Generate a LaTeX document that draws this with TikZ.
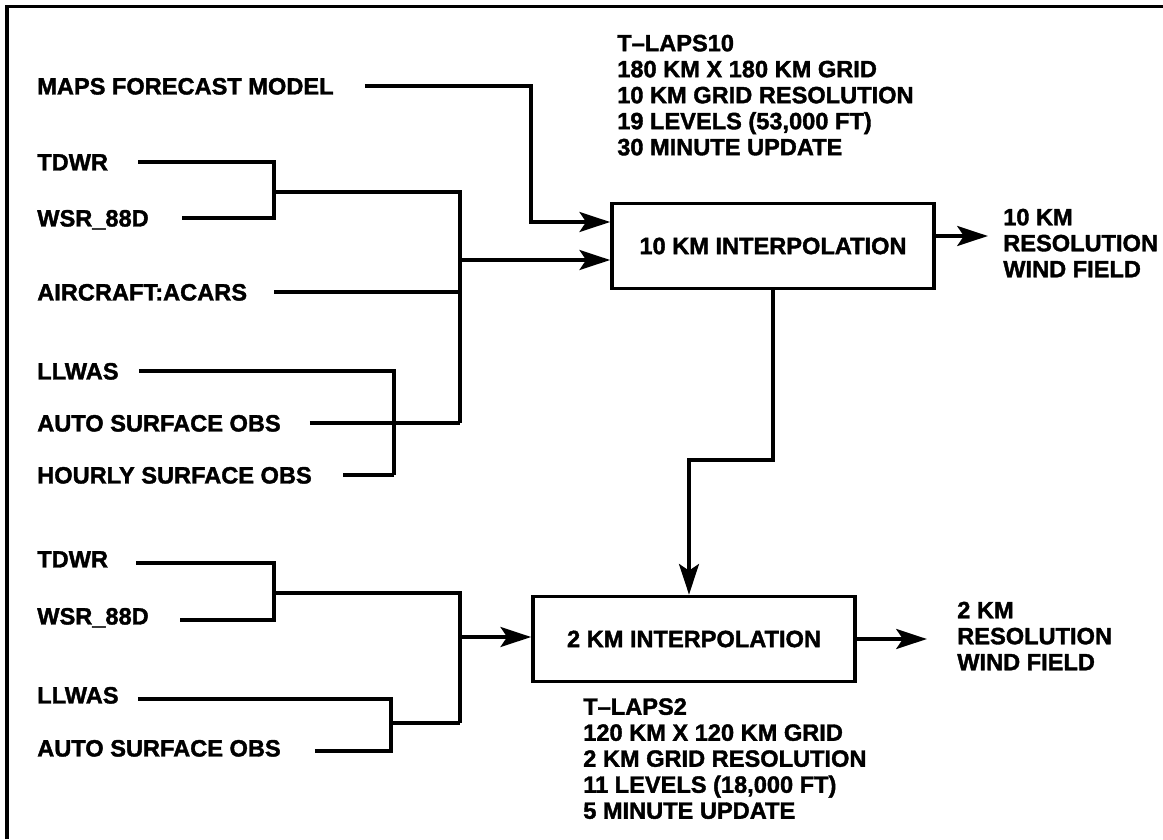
\documentclass[tikz,border=0pt]{standalone}
\usepackage{fontspec}
\setmainfont{Liberation Sans}[BoldFeatures={FakeBold=1.6}]
\usetikzlibrary{arrows.meta}
\begin{document}
\begin{tikzpicture}[x=0.75pt,y=-0.75pt,
  lab/.style={anchor=west, inner sep=0pt, font=\bfseries\fontsize{17.7}{19.5}\selectfont, text height=12.7pt, text depth=0pt},
  blk/.style={anchor=north west, inner sep=0pt, align=left, font=\bfseries\fontsize{17.7}{19.5}\selectfont},
  wire/.style={line width=2.5pt},
  arr/.style={wire, -{Stealth[length=23pt,width=15pt,inset=5pt]}},
  procbox/.style={draw, line width=2.8pt, minimum width=241.5pt, minimum height=63.75pt, inner sep=0pt,
    font=\bfseries\fontsize{17.7}{19.5}\selectfont}]
\useasboundingbox (0,0) rectangle (1163,839);
% frame
\draw[line width=2.6pt] (7,839) -- (7,6.5) -- (1163,6.5);

% ---------- upper part ----------
\node[lab] (maps) at (37,86) {MAPS FORECAST MODEL};
\node[lab] (tdwrA) at (37,162) {TDWR};
\node[lab] (wsrA) at (37,218) {WSR\_88D};
\node[lab] (acars) at (37,292) {AIRCRAFT:ACARS};
\node[lab] (llwasA) at (37,371) {LLWAS};
\node[lab] (autoA) at (37,423) {AUTO SURFACE OBS};
\node[lab] (hourly) at (37,475) {HOURLY SURFACE OBS};

\node[procbox] (box1) at (773,246) {10 KM INTERPOLATION};
\node[blk] (tl10) at (617,34.5) {T–LAPS10\\180 KM X 180 KM GRID\\10 KM GRID RESOLUTION\\19 LEVELS (53,000 FT)\\30 MINUTE UPDATE};
\node[blk] (out1) at (1003,208.5) {10 KM\\RESOLUTION\\WIND FIELD};

\coordinate (k1) at (531,222);
\coordinate (jA) at (274,192);
\coordinate (bA) at (460,423);
\coordinate (tA) at (460,260);
\coordinate (jL) at (394,475);

\draw[arr] (maps.east) ++(31,0) -| (k1) -- (k1 -| box1.west);
\draw[wire] (tdwrA.east) ++(30,0) -| (jA);
\draw[wire] (wsrA.east) ++(33,0) -| (jA);
\draw[wire] (jA) -| (bA);
\draw[wire] (acars.east) ++(27,0) -- (acars.east -| bA);
\draw[wire] (autoA.east) ++(29,0) -- (autoA.east -| bA);
\draw[wire] (llwasA.east) ++(20,0) -| (jL);
\draw[wire] (hourly.east) ++(31,0) -- (jL);
\draw[arr] (tA) -- (tA -| box1.west);
\draw[arr] ([yshift=7.5pt]box1.east) -- ++(52,0);

% ---------- lower part ----------
\node[lab] (tdwrB) at (37,559) {TDWR};
\node[lab] (wsrB) at (37,616) {WSR\_88D};
\node[lab] (llwasB) at (37,695) {LLWAS};
\node[lab] (autoB) at (37,748) {AUTO SURFACE OBS};

\node[procbox] (box2) at (694,639) {2 KM INTERPOLATION};
\node[blk] (tl2) at (583,698) {T–LAPS2\\120 KM X 120 KM GRID\\2 KM GRID RESOLUTION\\11 LEVELS (18,000 FT)\\5 MINUTE UPDATE};
\node[blk] (out2) at (957,601.5) {2 KM\\RESOLUTION\\WIND FIELD};

\coordinate (jB) at (274,593);
\coordinate (bB) at (460,723);
\coordinate (tB) at (460,637);
\coordinate (jC) at (391,723);

\draw[wire] (tdwrB.east) ++(28,4) -| (jB);
\draw[wire] (wsrB.east) ++(31,4) -| (jB);
\draw[wire] (jB) -| (bB);
\draw[wire] (llwasB.east) ++(19,4) -| (jC);
\draw[wire] (autoB.east) ++(34,3) -| (jC);
\draw[wire] (jC) -- (bB);
\draw[arr] (tB) -- (tB -| box2.west);
\draw[arr] (box2.east) -- ++(70,0);

% ---------- link between the boxes ----------
\coordinate (d1) at (773,460);
\coordinate (d2) at (689,460);
\draw[arr] (box1.south) -- (d1) -- (d2) -- (d2 |- box2.north);
\end{tikzpicture}
\end{document}
